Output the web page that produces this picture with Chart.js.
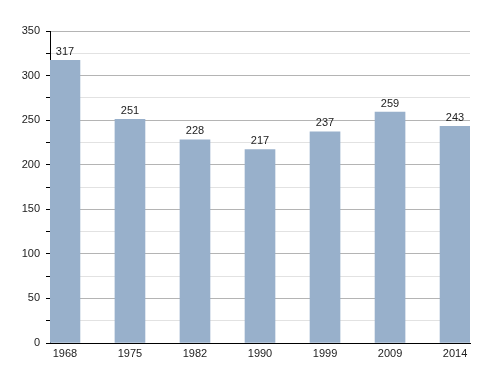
<!DOCTYPE html>
<html>
<head>
<meta charset="utf-8">
<script src="https://cdn.jsdelivr.net/npm/chart.js@4"></script>
<style>
  html, body { margin: 0; padding: 0; background: #fff; }
  #wrap { width: 500px; height: 373px; position: relative; }
</style>
</head>
<body>
<div id="wrap"><canvas id="c"></canvas></div>
<script>
// population by census year
const years = ['1968', '1975', '1982', '1990', '1999', '2009', '2014'];
const population = [317, 251, 228, 217, 237, 259, 243];

const BAR_COLOR = 'rgb(152, 176, 203)';
const FONT = '"Liberation Sans", Arial, sans-serif';

// draws the value above each bar
const valueLabels = {
    id: 'valueLabels',
    afterDatasetsDraw(chart) {
        const ctx = chart.ctx;
        const meta = chart.getDatasetMeta(0);
        ctx.save();
        ctx.font = '11px ' + FONT;
        ctx.fillStyle = '#222';
        ctx.textAlign = 'center';
        ctx.textBaseline = 'bottom';
        meta.data.forEach((bar, i) => {
            ctx.fillText(String(population[i]), bar.x, bar.y - 3);
        });
        ctx.restore();
    }
};

// linear x so the first bar sits right against the y axis
const points = population.map((v, i) => ({ x: i, y: v }));

new Chart(document.getElementById('c'), {
    type: 'bar',
    data: {
        datasets: [{
            data: points,
            backgroundColor: BAR_COLOR,
            borderWidth: 0,
            barThickness: 30,
        }]
    },
    options: {
        responsive: true,
        maintainAspectRatio: false,
        animation: false,
        layout: { padding: { left: 0, right: 30, top: 31, bottom: 0 } },
        plugins: {
            legend: { display: false },
            tooltip: { enabled: false }
        },
        scales: {
            x: {
                type: 'linear',
                offset: false,
                min: -0.23,
                max: 6.23,
                grid: { display: false, drawTicks: false },
                border: { color: '#000', width: 1 },
                ticks: {
                    autoSkip: false,
                    color: '#222',
                    padding: 4,
                    font: { family: FONT, size: 11 },
                    callback: v => years[v] || ''
                },
                afterBuildTicks(scale) {
                    scale.ticks = years.map((_, i) => ({ value: i }));
                },
                afterFit(scale) { scale.height = 30; }
            },
            y: {
                min: 0,
                max: 350,
                ticks: {
                    stepSize: 25,
                    color: '#222',
                    padding: 6,
                    font: { family: FONT, size: 11 },
                    callback: v => (v % 50 === 0 ? v : '')
                },
                grid: {
                    color: c => (c.tick && c.tick.value % 50 === 0 ? '#b4b4b4' : '#e2e2e2'),
                    tickColor: '#000',
                    tickLength: 4,
                    lineWidth: 1
                },
                border: { color: '#000', width: 1 },
                afterFit(scale) { scale.width = 50; }
            }
        }
    },
    plugins: [valueLabels]
});
</script>
</body>
</html>
